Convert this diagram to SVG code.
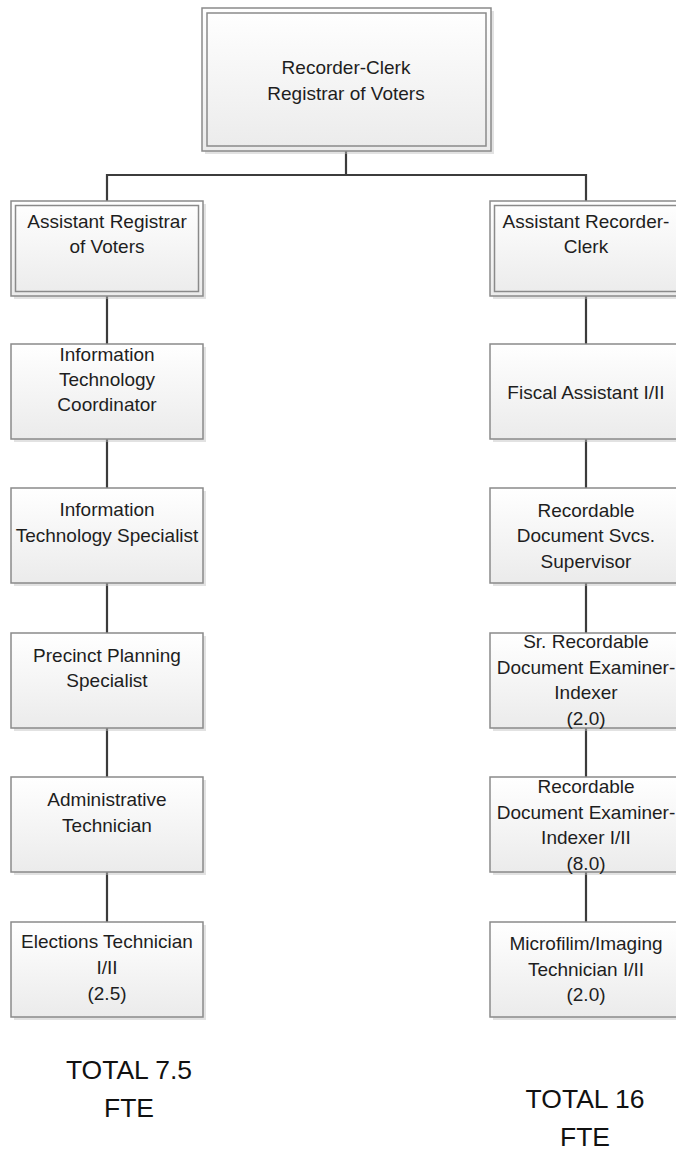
<svg xmlns="http://www.w3.org/2000/svg" width="676" height="1151" viewBox="0 0 676 1151">
<defs>
<linearGradient id="g" x1="0" y1="0" x2="0" y2="1">
<stop offset="0" stop-color="#ffffff"/>
<stop offset="1" stop-color="#ebebeb"/>
</linearGradient>
<style>
.sh{fill:#bfbfbf;opacity:0.45}
.bx{fill:url(#g);stroke:#8a8a8a;stroke-width:1.5}
.in{fill:none;stroke:#8a8a8a;stroke-width:1.5}
.t{font-family:"Liberation Sans",Arial,sans-serif;font-size:19px;fill:#1e1e1e;text-anchor:middle}
.tot{font-family:"Liberation Sans",Arial,sans-serif;font-size:26.5px;fill:#111;text-anchor:middle}
.c{fill:none;stroke:#3c3c3c;stroke-width:2.2}
</style>
</defs>
<rect width="676" height="1151" fill="#fff"/>
<g id="connectors">
<path class="c" d="M346 151V175M107 201V175H586V201"/>
<path class="c" d="M107 296V344M107 439V488M107 583V633M107 728V777M107 872V922"/>
<path class="c" d="M586 296V344M586 439V488M586 583V633M586 728V777M586 872V922"/>
</g>
<g id="n-top">
<rect class="sh" x="205" y="11" width="289" height="143"/>
<rect class="bx" x="202" y="8" width="289" height="143"/>
<rect class="in" x="207" y="13" width="279" height="133"/>
<text class="t" x="346" y="74">Recorder-Clerk</text>
<text class="t" x="346" y="99.5">Registrar of Voters</text>
</g>
<g id="n-l1">
<rect class="sh" x="14" y="204" width="192" height="95"/>
<rect class="bx" x="11" y="201" width="192" height="95"/>
<rect class="in" x="15.5" y="205.5" width="183" height="86"/>
<text class="t" x="107" y="227.5">Assistant Registrar</text>
<text class="t" x="107" y="253">of Voters</text>
</g>
<g id="n-l2">
<rect class="sh" x="14" y="347" width="192" height="95"/>
<rect class="bx" x="11" y="344" width="192" height="95"/>
<text class="t" x="107" y="361">Information</text>
<text class="t" x="107" y="386">Technology</text>
<text class="t" x="107" y="411">Coordinator</text>
</g>
<g id="n-l3">
<rect class="sh" x="14" y="491" width="192" height="95"/>
<rect class="bx" x="11" y="488" width="192" height="95"/>
<text class="t" x="107" y="516">Information</text>
<text class="t" x="107" y="541.5">Technology Specialist</text>
</g>
<g id="n-l4">
<rect class="sh" x="14" y="636" width="192" height="95"/>
<rect class="bx" x="11" y="633" width="192" height="95"/>
<text class="t" x="107" y="662">Precinct Planning</text>
<text class="t" x="107" y="687">Specialist</text>
</g>
<g id="n-l5">
<rect class="sh" x="14" y="780" width="192" height="95"/>
<rect class="bx" x="11" y="777" width="192" height="95"/>
<text class="t" x="107" y="806">Administrative</text>
<text class="t" x="107" y="831.5">Technician</text>
</g>
<g id="n-l6">
<rect class="sh" x="14" y="925" width="192" height="95"/>
<rect class="bx" x="11" y="922" width="192" height="95"/>
<text class="t" x="107" y="948">Elections Technician</text>
<text class="t" x="107" y="974">I/II</text>
<text class="t" x="107" y="1000">(2.5)</text>
</g>
<g id="n-r1">
<rect class="sh" x="493" y="204" width="192" height="95"/>
<rect class="bx" x="490" y="201" width="192" height="95"/>
<rect class="in" x="494.5" y="205.5" width="183" height="86"/>
<text class="t" x="586" y="227.5">Assistant Recorder-</text>
<text class="t" x="586" y="253">Clerk</text>
</g>
<g id="n-r2">
<rect class="sh" x="493" y="347" width="192" height="95"/>
<rect class="bx" x="490" y="344" width="192" height="95"/>
<text class="t" x="586" y="398.5">Fiscal Assistant I/II</text>
</g>
<g id="n-r3">
<rect class="sh" x="493" y="491" width="192" height="95"/>
<rect class="bx" x="490" y="488" width="192" height="95"/>
<text class="t" x="586" y="516.5">Recordable</text>
<text class="t" x="586" y="542">Document Svcs.</text>
<text class="t" x="586" y="567.5">Supervisor</text>
</g>
<g id="n-r4">
<rect class="sh" x="493" y="636" width="192" height="95"/>
<rect class="bx" x="490" y="633" width="192" height="95"/>
<text class="t" x="586" y="648">Sr. Recordable</text>
<text class="t" x="586" y="673.5">Document Examiner-</text>
<text class="t" x="586" y="699">Indexer</text>
<text class="t" x="586" y="724.5">(2.0)</text>
</g>
<g id="n-r5">
<rect class="sh" x="493" y="780" width="192" height="95"/>
<rect class="bx" x="490" y="777" width="192" height="95"/>
<text class="t" x="586" y="793">Recordable</text>
<text class="t" x="586" y="818.5">Document Examiner-</text>
<text class="t" x="586" y="844">Indexer I/II</text>
<text class="t" x="586" y="869.5">(8.0)</text>
</g>
<g id="n-r6">
<rect class="sh" x="493" y="925" width="192" height="95"/>
<rect class="bx" x="490" y="922" width="192" height="95"/>
<text class="t" x="586" y="950">Microfilim/Imaging</text>
<text class="t" x="586" y="975.5">Technician I/II</text>
<text class="t" x="586" y="1001">(2.0)</text>
</g>
<g id="totals">
<text class="tot" x="129" y="1079">TOTAL 7.5</text>
<text class="tot" x="129" y="1117">FTE</text>
<text class="tot" x="585" y="1108">TOTAL 16</text>
<text class="tot" x="585" y="1146">FTE</text>
</g>
</svg>
